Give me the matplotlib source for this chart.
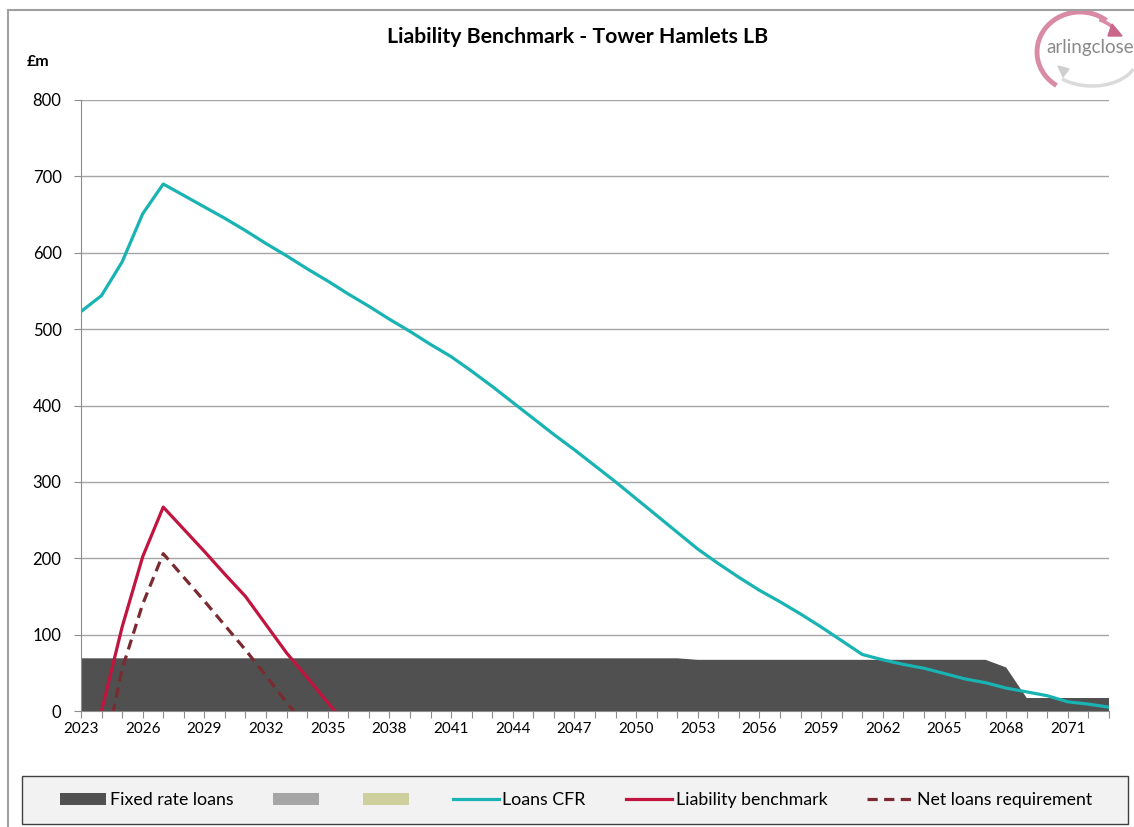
import numpy as np
import matplotlib
matplotlib.use("Agg")
import matplotlib.pyplot as plt
from matplotlib.patches import Rectangle, Arc, Polygon

plt.rcParams['font.family'] = ['Lato', 'DejaVu Sans']

years = list(range(2023, 2074))

fixed_rate = [69, 69, 69, 69, 69, 69, 69, 69, 69, 69,
              69, 69, 69, 69, 69, 69, 69, 69, 69, 69,
              69, 69, 69, 69, 69, 69, 69, 69, 69, 69,
              67, 67, 67, 67, 67, 67, 67, 67, 67, 67,
              67, 67, 67, 67, 67, 57, 17, 17, 17, 17, 17]
series_2 = [0] * 51
series_3 = [0] * 51

loans_cfr = [523, 544, 588, 651, 690, 675, 660, 645, 629, 612,
             596, 579, 563, 546, 530, 513, 497, 480, 464, 445,
             425, 404, 383, 362, 342, 321, 300, 278, 256, 234,
             212, 193, 175, 158, 143, 127, 110, 92, 74, 67,
             61, 56, 49, 42, 37, 30, 25, 20, 12, 9, 5]

bench_years = [2023, 2024, 2025, 2026, 2027, 2028, 2029, 2030, 2031, 2032, 2033, 2034, 2035, 2036]
liability = [-95, 0, 110, 202, 267, 238, 209, 179, 150, 113, 76, 44, 11, -21]

net_years = [2023, 2024, 2025, 2026, 2027, 2028, 2029, 2030, 2031, 2032, 2033, 2034]
net_loans = [-150, -73, 55, 140, 206, 175, 144, 112, 80, 46, 11, -22]

legend_labels = ['Fixed rate loans', '', '', 'Loans CFR', 'Liability benchmark', 'Net loans requirement']

W, H = 1134, 827
fig = plt.figure(figsize=(W / 100, H / 100), dpi=100)
ax = fig.add_axes([81 / W, 1 - 711 / H, (1109 - 81) / W, (711 - 100) / H])

areas = ax.stackplot(years, fixed_rate, series_2, series_3,
                     colors=['#505050', '#A6A6A6', '#CDCF9C'], linewidth=0)
l1, = ax.plot(years, loans_cfr, color='#19B3B3', lw=2.3)
l2, = ax.plot(bench_years, liability, color='#C1153F', lw=2.3)
l3, = ax.plot(net_years, net_loans, color='#7B2A30', lw=2.3, ls=(0, (3.2, 2)))

ax.set_xlim(2023, 2073)
ax.set_ylim(0, 800)
ax.set_yticks(range(0, 801, 100))
ax.set_xticks(years)
ax.set_xticklabels([str(y) if (y - 2023) % 3 == 0 else '' for y in years])
ax.grid(axis='y', color='#A5A5A5', lw=1)
ax.set_axisbelow(True)
for s in ['top', 'right']:
    ax.spines[s].set_visible(False)
for s in ['left', 'bottom']:
    ax.spines[s].set_color('#8C8C8C')
ax.tick_params(axis='y', length=5, color='#8C8C8C', pad=9, labelsize=12)
ax.tick_params(axis='x', length=5, color='#8C8C8C', pad=3, labelsize=11)

fig.text(578 / W, 1 - 37 / H, 'Liability Benchmark - Tower Hamlets LB',
         ha='center', va='center', fontsize=15.3, fontweight='bold')
fig.text(38 / W, 1 - 62 / H, '£m', ha='center', va='center', fontsize=11.5, fontweight='bold')

# outer frame lines
fig.add_artist(plt.Line2D([8 / W, 8 / W], [0, 1 - 10 / H], color='#A0A0A0', lw=1.5))
fig.add_artist(plt.Line2D([8 / W, 1], [1 - 10 / H, 1 - 10 / H], color='#A0A0A0', lw=1.5))

# legend box
fig.add_artist(Rectangle((22 / W, 1 - 824 / H), (1128 - 22) / W, 48 / H,
                         transform=fig.transFigure, fc='#F2F2F2', ec='#404040', lw=1))
fig.legend([areas[0], areas[1], areas[2], l1, l2, l3], legend_labels, ncol=6,
           loc='center', bbox_to_anchor=(576 / W, 1 - 800 / H), frameon=False,
           fontsize=12.8, handlelength=2.6, handletextpad=0.2, columnspacing=2.25)

# logo
lax = fig.add_axes([1025 / W, 1 - 100 / H, 109 / W, 95 / H])
lax.set_xlim(1025, 1134)
lax.set_ylim(H - 100, H - 5)
lax.axis('off')
lax.add_patch(Arc((1080, H - 52), 86, 80, theta1=50, theta2=235, color='#D98AA4', lw=3.5))
lax.add_patch(Arc((1083, H - 48), 80, 62, theta1=20, theta2=60, color='#D98AA4', lw=2.5))
lax.add_patch(Polygon([[1112, H - 24], [1122, H - 36], [1108, H - 36]], color='#C9668A'))
lax.add_patch(Arc((1092, H - 58), 90, 56, theta1=215, theta2=345, color='#DADADA', lw=2.5))
lax.add_patch(Polygon([[1058, H - 66], [1069, H - 69], [1063, H - 77]], color='#CFCFCF'))
lax.text(1090, H - 48, 'arlingclose', ha='center', va='center', fontsize=13.5, color='#8A8A8A')

fig.savefig('out.png', dpi=100)
